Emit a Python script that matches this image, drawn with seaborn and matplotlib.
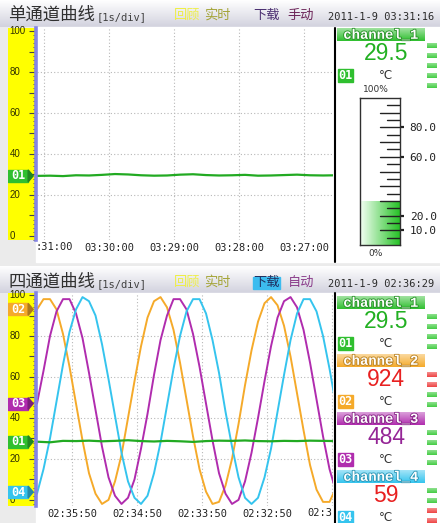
import numpy as np
import matplotlib
matplotlib.use('Agg')
import matplotlib.pyplot as plt
import matplotlib.patheffects as pe
from matplotlib.colors import LinearSegmentedColormap, to_rgb
from matplotlib.patches import Rectangle, Polygon
from matplotlib.ticker import MultipleLocator
import seaborn as sns

sns.set_style('white')
plt.rcParams['font.family'] = ['DejaVu Sans', 'Noto Sans CJK SC']

CJK = ['Noto Sans CJK SC', 'DejaVu Sans']
MONO = ['DejaVu Sans Mono']

# ---- texts ----
titles = ['单通道曲线', '四通道曲线']
scale_text = '[1s/div]'
menu_top = ['回顾', '实时', '下载', '手动']
menu_bot = ['回顾', '实时', '下载', '自动']
stamps = ['2011-1-9 03:31:16', '2011-1-9 02:36:29']

# ---- time axis (seconds from left edge of the trace) ----
# first / last labels are cut off by the panel edges in the original
top_xticks = [6.5, 66.5, 126.5, 186.5, 246.5]
top_xlabels = [':31:00', '03:30:00', '03:29:00', '03:28:00', '03:27:00']
bot_xticks = [32.3, 92.3, 152.3, 212.3, 272.3]
bot_xlabels = ['02:35:50', '02:34:50', '02:33:50', '02:32:50', '02:3']
y_labels = [0, 20, 40, 60, 80, 100]

# channel 1, sampled every 12 s
t_slow = np.arange(0, 277, 12)
ch1_top = [29.3, 29.4, 29.2, 29.6, 29.5, 29.8, 30.2, 30.0, 29.6, 29.4, 29.5, 29.9,
           30.1, 29.7, 29.5, 29.6, 29.8, 29.4, 29.5, 29.7, 29.9, 29.6, 29.5, 29.6]
ch1_bot = [28.4, 28.1, 28.8, 28.7, 28.9, 28.6, 28.8, 29.1, 28.7, 28.5, 28.8, 28.6,
           28.3, 28.7, 28.9, 28.8, 29.0, 28.7, 28.6, 28.8, 28.7, 28.9, 28.8, 28.7]

# channels 2-4, sampled every 6 s
t_fast = np.arange(0, 277, 6)
ch2 = [93, 98, 98, 93, 81, 65, 47, 29, 13, 3, -2, 0, 9, 22, 40, 58, 75, 89, 97, 99,
       94, 83, 67, 49, 31, 15, 4, -2, -1, 7, 20, 37, 56, 73, 87, 96, 99, 95, 85, 70,
       52, 34, 17, 5, -1, -1, 6]
ch3 = [47, 63, 80, 92, 98, 98, 91, 79, 62, 44, 26, 11, 2, -2, 1, 10, 25, 42, 61, 78,
       90, 98, 98, 93, 81, 65, 47, 29, 13, 3, -2, 0, 9, 23, 40, 58, 75, 89, 97, 99,
       94, 83, 67, 49, 31, 15, 4]
ch4 = [3, 15, 30, 48, 66, 82, 93, 99, 97, 90, 76, 59, 41, 23, 9, 1, -2, 2, 13, 28,
       46, 64, 80, 92, 98, 98, 91, 78, 62, 43, 26, 11, 1, -2, 1, 11, 25, 43, 61, 78,
       91, 98, 98, 92, 80, 64, 46]

channels = ['channel_1', 'channel_2', 'channel_3', 'channel_4']
readings = ['29.5', '924', '484', '59']
reading_colors = ['#22b022', '#e82020', '#952596', '#e82020']
ch_ids = ['01', '02', '03', '04']
ch_colors = ['#2fbf2f', '#f5aa2a', '#b02cae', '#35c4ee']
alarm_bars = [[0, 0, 0, 0], [1, 1, 0, 0], [0, 0, 0, 0], [0, 0, 1, 1]]
unit = '°C'

gauge_value = 29.5
gauge_ticks = [10, 20, 60, 80]

W, H = 440, 523
fig = plt.figure(figsize=(W / 100, H / 100), dpi=100)


def px_axes(x0, y0, x1, y1, z=0):
    return fig.add_axes([x0 / W, 1 - y1 / H, (x1 - x0) / W, (y1 - y0) / H], zorder=z)


def lighten(c, f):
    r, g, b = to_rgb(c)
    return (r + (1 - r) * f, g + (1 - g) * f, b + (1 - b) * f)


def darken(c, f):
    r, g, b = to_rgb(c)
    return (r * f, g * f, b * f)


def vgrad(ax, x0, x1, y0, y1, c0, c1, z=1):
    cmap = LinearSegmentedColormap.from_list('g', [c0, c1])
    ax.imshow(np.linspace(0, 1, 64).reshape(-1, 1), cmap=cmap, extent=(x0, x1, y1, y0),
              aspect='auto', zorder=z, interpolation='bilinear')


# ---- background ----
bg = px_axes(0, 0, W, H, 0)
bg.axis('off')
bg.add_patch(Rectangle((0, 0), W, H, color='#ebebeb', zorder=0))
vgrad(bg, 0, W, 0, 27, '#ffffff', '#d2d2de')
vgrad(bg, 0, W, 266, 293, '#ffffff', '#d2d2de')
bg.add_patch(Rectangle((36, 27), W - 36, 235, color='white', zorder=1))
bg.add_patch(Rectangle((36, 293), W - 36, H - 293, color='white', zorder=1))
bg.set_xlim(0, W)
bg.set_ylim(H, 0)


# ---- trend plots ----
def trend_axes(y0, y1, ylim, xticks, xlabels):
    ax = px_axes(37, y0, 333, y1, 1)
    ax.set_facecolor('none')
    ax.set_xlim(0, 273.2)
    ax.set_ylim(*ylim)
    ax.set_xticks(xticks, xlabels)
    ax.set_yticks([20, 40, 60, 80])
    ax.grid(True, ls=(0, (1, 2)), color='#b8b8b8', lw=0.8)
    ax.tick_params(length=0, pad=2, labelsize=7.5, labelcolor='#222222', labelleft=False)
    for lab in ax.get_xticklabels():
        lab.set_family(MONO)
    for sp in ax.spines.values():
        sp.set_visible(False)
    return ax


ax1 = trend_axes(28, 240, (-2, 101.5), top_xticks, [''] + top_xlabels[1:])
sns.lineplot(x=t_slow, y=ch1_top, ax=ax1, color='#22aa22', lw=1.6)

ax2 = trend_axes(293, 506, (-3, 101), bot_xticks, bot_xlabels[:-1] + [''])
for vals, col in zip([ch2, ch3, ch4], ch_colors[1:]):
    sns.lineplot(x=t_fast, y=vals, ax=ax2, color=col, lw=1.4)
sns.lineplot(x=t_slow, y=ch1_bot, ax=ax2, color='#22aa22', lw=1.6)


# ---- yellow scales ----
def strip(y0, y1, ylim, markers):
    s = px_axes(8, y0, 36, y1, 2)
    s.set_facecolor('#ffff00')
    s.set_xlim(0, 1)
    s.set_ylim(*ylim)
    for sp in ['left', 'top', 'bottom']:
        s.spines[sp].set_visible(False)
    s.spines['right'].set_color('#8484e4')
    s.spines['right'].set_linewidth(2.6)
    s.yaxis.tick_right()
    s.yaxis.set_major_locator(MultipleLocator(10))
    s.yaxis.set_minor_locator(MultipleLocator(2))
    s.tick_params(axis='y', which='major', direction='in', length=5, width=0.8,
                  color='#444444', labelright=False)
    s.tick_params(axis='y', which='minor', direction='in', length=2.5, width=0.6,
                  color='#444444')
    s.set_xticks([])
    for v in y_labels:
        s.text(0.06, v, str(v), ha='left', va='center', fontsize=7,
               family='Liberation Sans', color='#303000', zorder=2)
    for lab, val, col in markers:
        s.add_patch(Rectangle((0, val - 2.9), 0.72, 5.8, color=col, zorder=3))
        s.add_patch(Polygon([[0.72, val - 2.9], [0.72, val + 2.9], [0.9, val]],
                            color=darken(col, 0.7), zorder=3))
        s.text(0.36, val, lab, ha='center', va='center', color='white', fontsize=8.5,
               family=MONO, fontweight='bold', zorder=4)


strip(28, 240, (-2, 101.5), [('01', ch1_top[0], ch_colors[0])])
strip(293, 506, (-3, 101), [('02', ch2[0], ch_colors[1]), ('03', ch3[0], ch_colors[2]),
                            ('01', ch1_bot[0], ch_colors[0]), ('04', ch4[0] + 0.8, ch_colors[3])])

# ---- gauge ----
th = px_axes(360, 98, 400, 245, 2)
th.set_facecolor('white')
gcmap = LinearSegmentedColormap.from_list('gg', ['#f4fff4', '#22c022'])
th.imshow(np.linspace(0, 1, 64).reshape(1, -1), extent=(0, 1, 0, gauge_value),
          aspect='auto', cmap=gcmap, zorder=1)
for v in range(5, 100, 5):
    L = 0.5 if v % 10 == 0 else 0.33
    th.plot([1 - L, 1], [v, v], color='#222222', lw=1, zorder=2)
th.set_xlim(0, 1)
th.set_ylim(0, 100)
th.set_xticks([])
th.yaxis.tick_right()
th.set_yticks(gauge_ticks, [f'{v:.1f}' for v in gauge_ticks])
th.tick_params(axis='y', direction='out', length=3, width=1.6, pad=4, labelsize=8,
               colors='#222222')
for lab in th.get_yticklabels():
    lab.set_family(MONO)
for sp in th.spines.values():
    sp.set_color('#303030')
    sp.set_linewidth(1)

# ---- overlay: title bars, side panels ----
ov = px_axes(0, 0, W, H, 10)
ov.axis('off')
ov.text(36, 246.5, top_xlabels[0], fontsize=7.5, family=MONO, color='#222222',
        ha='left', va='center')
ov.text(307, 512.5, bot_xlabels[-1], fontsize=7.5, family=MONO, color='#222222',
        ha='left', va='center')

menu_x = [187, 217, 267, 301]
for i, (ty, menu) in enumerate([(0, menu_top), (267, menu_bot)]):
    ov.text(8, 15 + ty, titles[i], fontsize=12.5, family=CJK, va='center', ha='left',
            color='#303030')
    ov.text(97, 17.5 + ty, scale_text, fontsize=7.5, family=MONO, va='center', ha='left',
            color='#404040')
    cols = ['#eeee44', '#a4a436', '#4a2e70', '#6c2458'] if i == 0 else \
           ['#eeee44', '#a4a436', '#203060', '#8a3c8a']
    if i == 1:
        ov.add_patch(Rectangle((253, 277), 27, 12, color='#3cbcef', zorder=2))
    for x, m, c in zip(menu_x, menu, cols):
        ov.text(x, 15.5 + ty, m, fontsize=9.5, family=CJK, ha='center', va='center',
                color=c, zorder=3)
    ov.text(328, 17 + ty, stamps[i], fontsize=7.5, family=MONO, ha='left', va='center',
            color='#2a2a2a')

ov.plot([335, 335], [28, 262], color='black', lw=1.5)
ov.plot([335, 335], [293, 523], color='black', lw=1.5)


def channel_block(top, k, bar_off, bars):
    col = ch_colors[k]
    vgrad(ov, 337, 425, top, top + 13, lighten(col, 0.55), col, z=2)
    ov.text(381, top + 6.8, channels[k], color='white', fontsize=10, family='Liberation Mono',
            fontweight='bold', ha='center', va='center', zorder=3,
            path_effects=[pe.withStroke(linewidth=1.2, foreground=darken(col, 0.75))])
    ov.text(386, top + 26, readings[k], color=reading_colors[k], fontsize=16.5,
            family='Liberation Sans', ha='center', va='center', zorder=3)
    ov.add_patch(Rectangle((338, top + 41), 15, 12.5, color=col, zorder=2))
    ov.text(345.5, top + 47.5, ch_ids[k], color='white', fontsize=8.5, family=MONO,
            fontweight='bold', ha='center', va='center', zorder=3)
    ov.text(386, top + 47.5, unit, color='#333333', fontsize=8.5, ha='center', va='center',
            zorder=3)
    for j, a in enumerate(bars):
        c = '#ee4444' if a else '#44cc44'
        vgrad(ov, 427, 437, top + bar_off + 10 * j, top + bar_off + 10 * j + 5,
              lighten(c, 0.4), c, z=2)


channel_block(28, 0, 15, [0, 0, 0, 0, 0])
ov.text(376, 90, '100%', fontsize=6.5, color='#333333', ha='center', va='center')
ov.text(376, 253, '0%', fontsize=6.5, color='#333333', ha='center', va='center')
for k, top in enumerate([296, 354, 412, 470]):
    channel_block(top, k, 18, alarm_bars[k])

ov.set_xlim(0, W)
ov.set_ylim(H, 0)

fig.savefig('out.png', dpi=100)
